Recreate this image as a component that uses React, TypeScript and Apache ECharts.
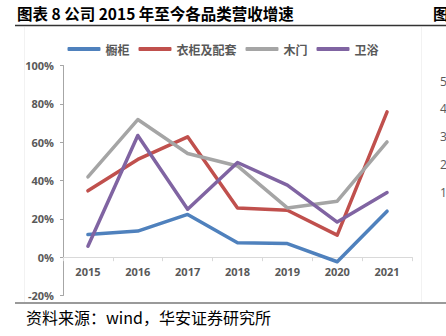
import React, { useEffect, useRef } from "react";
import * as echarts from "echarts";

const categories = ["2015", "2016", "2017", "2018", "2019", "2020", "2021"];
const cabinet = [11.8, 13.6, 22.3, 7.5, 7.1, -2.4, 24.0];
const wardrobe = [34.6, 51.0, 62.8, 25.7, 24.5, 11.5, 75.8];
const woodDoor = [41.9, 71.8, 54.1, 47.6, 25.7, 29.2, 60.1];
const bathroom = [5.7, 63.5, 25.0, 49.4, 37.6, 18.3, 33.7];
const seriesNames = ["橱柜", "衣柜及配套", "木门", "卫浴"];
const colors = ["#4F81BD", "#C0504D", "#A5A5A5", "#8064A2"];
const rightTicks = ["5", "4", "3", "2", "1"];

export default function App() {
  const ref = useRef<HTMLDivElement>(null);
  useEffect(() => {
    if (!ref.current) return;
    const chart = echarts.init(ref.current, null, { renderer: "svg" });
    const font = "'Open Sans', 'Noto Sans CJK SC', sans-serif";
    const mk = (i: number, data: number[]) => ({
      name: seriesNames[i],
      type: "line",
      data,
      showSymbol: false,
      symbol: "none",
      lineStyle: { width: 3.5, color: colors[i], cap: "round", join: "round" },
      itemStyle: { color: colors[i] },
    });
    const gridTop = 65.5;
    const gridBottom = 40.5;
    const plotH = 336 - gridTop - gridBottom;
    const zeroOffset = (plotH * 20) / 120;
    chart.setOption({
      animation: false,
      backgroundColor: "#ffffff",
      legend: {
        top: 38,
        left: "center",
        icon: "roundRect",
        itemWidth: 33,
        itemHeight: 4,
        itemGap: 9,
        textStyle: { fontSize: 12, color: "#595959", fontWeight: "bold", fontFamily: "'Noto Sans CJK SC', sans-serif" },
        data: seriesNames,
      },
      grid: { left: 63, right: 34, top: gridTop, bottom: gridBottom },
      xAxis: {
        type: "category",
        data: categories,
        boundaryGap: true,
        position: "bottom",
        offset: -zeroOffset,
        axisLine: { onZero: false, lineStyle: { color: "#D9D9D9", width: 1 } },
        axisTick: { show: true, alignWithLabel: false, length: 4, lineStyle: { color: "#D9D9D9" } },
        axisLabel: { color: "#595959", fontSize: 11, fontWeight: "bold", fontFamily: font, margin: 9 },
        splitLine: { show: false },
      },
      yAxis: {
        type: "value",
        min: -20,
        max: 100,
        interval: 20,
        axisLine: { show: true, lineStyle: { color: "#A6A6A6", width: 1 } },
        axisTick: { show: true, length: 3, lineStyle: { color: "#A6A6A6" } },
        axisLabel: { color: "#595959", fontSize: 11, fontWeight: "bold", fontFamily: font, margin: 9, formatter: "{value}%" },
        splitLine: { show: false },
      },
      series: [mk(0, cabinet), mk(1, wardrobe), mk(2, woodDoor), mk(3, bathroom)],
      graphic: [
        {
          type: "text",
          left: 17,
          top: 5,
          style: { text: "图表 8 公司 2015 年至今各品类营收增速", fontSize: 15.5, fontWeight: "bold", fill: "#000", fontFamily: "'Noto Sans CJK SC', sans-serif" },
        },
        {
          type: "text",
          x: 433,
          y: 5,
          style: { text: "图", fontSize: 15.5, fontWeight: "bold", fill: "#000", fontFamily: "'Noto Sans CJK SC', sans-serif" },
        },
        { type: "line", shape: { x1: 15, y1: 25.5, x2: 446, y2: 25.5 }, style: { stroke: "#333", lineWidth: 1.3 } },
        { type: "line", shape: { x1: 15, y1: 303, x2: 446, y2: 303 }, style: { stroke: "#9a9a9a", lineWidth: 2 } },
        { type: "line", shape: { x1: 24.5, y1: 27, x2: 24.5, y2: 302 }, style: { stroke: "#F2F2F2", lineWidth: 1 } },
        { type: "line", shape: { x1: 421.5, y1: 27, x2: 421.5, y2: 302 }, style: { stroke: "#F2F2F2", lineWidth: 1 } },
        ...rightTicks.map((t, i) => ({
          type: "text",
          x: 440,
          y: 75 + i * 27.8,
          style: { text: t, fontSize: 12, fill: "#595959", fontFamily: font },
        })),
        {
          type: "text",
          left: 26,
          top: 309,
          style: { text: "资料来源：wind，华安证券研究所", fontSize: 16, fill: "#000", fontFamily: "'Noto Sans CJK SC', sans-serif" },
        },
      ],
    });
    return () => chart.dispose();
  }, []);
  return <div ref={ref} style={{ position: "fixed", left: 0, top: 0, width: 446, height: 336 }} />;
}
